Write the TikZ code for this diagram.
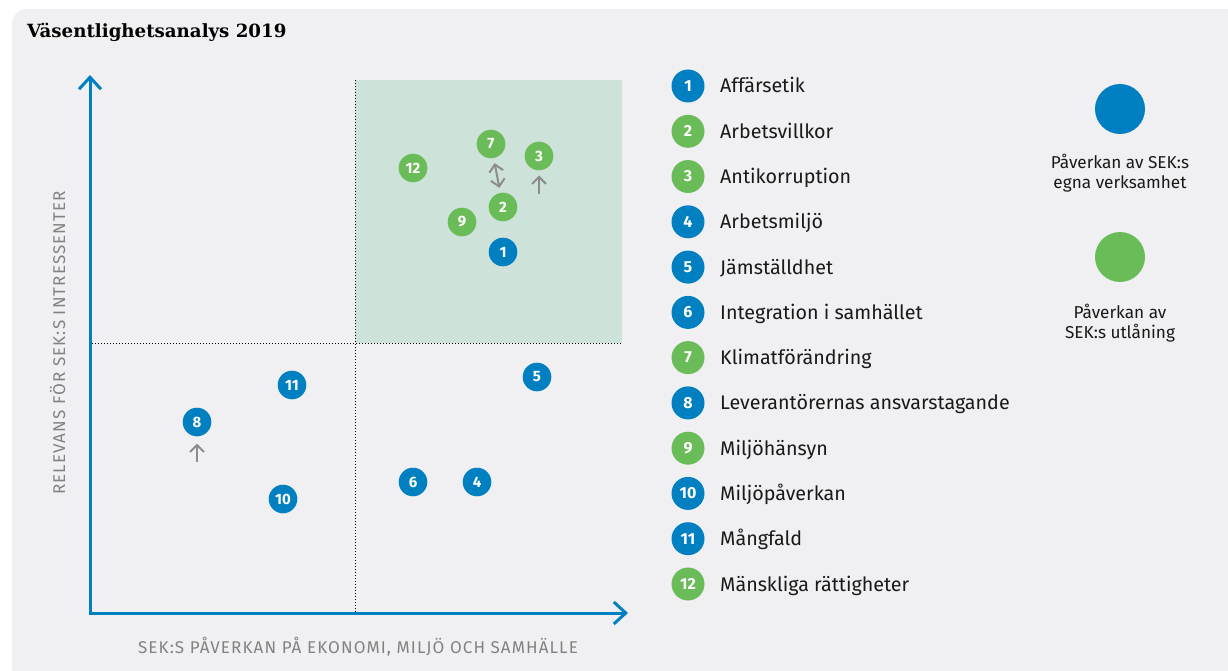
\documentclass[tikz,border=0pt]{standalone}
\usepackage{fontspec}
\setmainfont{Fira Sans}
\newfontfamily\titlefont{DejaVu Serif}
\newfontfamily\spacedfont[LetterSpace=6.5]{Fira Sans}
\usetikzlibrary{arrows.meta}
\definecolor{sekblue}{HTML}{0080C1}
\definecolor{sekgreen}{HTML}{6ABC58}
\definecolor{quadgreen}{HTML}{CDE2D8}
\definecolor{panelgray}{HTML}{F0F0F3}
\definecolor{arrgray}{HTML}{8C8C8C}
\definecolor{labelgray}{HTML}{828282}

\begin{document}
\begin{tikzpicture}[x=1pt, y=-1pt,
    dot/.style={circle, inner sep=0pt, minimum size=28.6pt, text=white, font=\fontsize{15}{15}\selectfont\bfseries},
    key/.style={circle, inner sep=0pt, minimum size=33pt, text=white, font=\fontsize{16}{16}\selectfont\bfseries},
    keytext/.style={anchor=base west, inner sep=0pt, text=black!90, font=\fontsize{19.7}{19.7}\selectfont},
    note/.style={align=center, inner sep=0pt, text=black!90, font=\fontsize{17.2}{20}\selectfont},
    axislabel/.style={anchor=base, inner sep=0pt, text=labelgray, font=\spacedfont\fontsize{17}{17}\selectfont},
    axis/.style={draw=sekblue, line width=3pt, {Straight Barb[length=12pt,width=22pt]}-{Straight Barb[length=12pt,width=22pt]}},
    arr/.style={draw=arrgray, line width=2pt, -{Straight Barb[length=7pt,width=14pt]}},
    grid/.style={line width=1pt, dash pattern=on 1pt off 2pt}]
    \useasboundingbox (0,0) rectangle (1228,671);
    \fill[panelgray] (12,671) [rounded corners=15pt] -- (12,9) [sharp corners] -- (1228,9) -- (1228,671) -- cycle;

    \node[anchor=base west, inner sep=0pt, font=\titlefont\bfseries\fontsize{18.2}{18.2}\selectfont] (title) at (27,37.5) {Väsentlighetsanalys 2019};

    % quadrants
    \fill[quadgreen] (355,80) rectangle (622,343);
    \draw[grid] (355,80) -- (355,613);
    \draw[grid] (92,343) -- (622,343);

    \coordinate (ytop) at (90,75);
    \coordinate (xend) at (628,613);
    \draw[axis] (ytop) |- (xend);
    \node[axislabel] (xlabel) at (358,653) {SEK:S PÅVERKAN PÅ EKONOMI, MILJÖ OCH SAMHÄLLE};
    \node[axislabel, rotate=90] (ylabel) at (65,343) {RELEVANS FÖR SEK:S INTRESSENTER};

    % dots
    \node[dot, fill=sekgreen] (dseven) at (491,144) {7};
    \node[dot, fill=sekgreen] (dthree) at (539,156) {3};
    \node[dot, fill=sekgreen] (dtwelve) at (413,168) {12};
    \node[dot, fill=sekgreen] (dtwo) at (503,207) {2};
    \node[dot, fill=sekgreen] (dnine) at (462,222) {9};
    \node[dot, fill=sekblue] (done) at (503,252) {1};
    \node[dot, fill=sekblue] (dfive) at (537,377) {5};
    \node[dot, fill=sekblue] (deleven) at (292,385) {11};
    \node[dot, fill=sekblue] (deight) at (197,422) {8};
    \node[dot, fill=sekblue] (dsix) at (413,482) {6};
    \node[dot, fill=sekblue] (dfour) at (477,482) {4};
    \node[dot, fill=sekblue] (dten) at (283,499) {10};

    \coordinate (cthree) at (539,194);
    \coordinate (ceight) at (197,462);
    \draw[arr, {Straight Barb[length=7pt,width=14pt]}-{Straight Barb[length=7pt,width=14pt]}, shorten <=5pt, shorten >=5pt] (dseven) -- (dtwo);
    \draw[arr, shorten >=5pt] (cthree) -- (dthree);
    \draw[arr, shorten >=7pt] (ceight) -- (deight);

    % legend
    \node[key, fill=sekblue] (kone) at (688,86) {1};
    \node[keytext] (tone) at (720,93) {Affärsetik};
    \node[key, fill=sekgreen] (ktwo) at (688,131.3) {2};
    \node[keytext] (ttwo) at (720,138.3) {Arbetsvillkor};
    \node[key, fill=sekgreen] (kthree) at (688,176.5) {3};
    \node[keytext] (tthree) at (720,183.5) {Antikorruption};
    \node[key, fill=sekblue] (kfour) at (688,221.8) {4};
    \node[keytext] (tfour) at (720,228.8) {Arbetsmiljö};
    \node[key, fill=sekblue] (kfive) at (688,267.1) {5};
    \node[keytext] (tfive) at (720,274.1) {Jämställdhet};
    \node[key, fill=sekblue] (ksix) at (688,312.4) {6};
    \node[keytext] (tsix) at (720,319.4) {Integration i samhället};
    \node[key, fill=sekgreen] (kseven) at (688,357.6) {7};
    \node[keytext] (tseven) at (720,364.6) {Klimatförändring};
    \node[key, fill=sekblue] (keight) at (688,402.9) {8};
    \node[keytext] (teight) at (720,409.9) {Leverantörernas ansvarstagande};
    \node[key, fill=sekgreen] (knine) at (688,448.2) {9};
    \node[keytext] (tnine) at (720,455.2) {Miljöhänsyn};
    \node[key, fill=sekblue] (kten) at (688,493.4) {10};
    \node[keytext] (tten) at (720,500.4) {Miljöpåverkan};
    \node[key, fill=sekblue] (keleven) at (688,538.7) {11};
    \node[keytext] (televen) at (720,545.7) {Mångfald};
    \node[key, fill=sekgreen] (ktwelve) at (688,584) {12};
    \node[keytext] (ttwelve) at (720,591) {Mänskliga rättigheter};

    \node[circle, inner sep=0pt, minimum size=50pt, fill=sekblue] (kblue) at (1120,109) {};
    \node[note] (nblue) at (1120,173) {Påverkan av SEK:s\\egna verksamhet};
    \node[circle, inner sep=0pt, minimum size=50pt, fill=sekgreen] (kgreen) at (1120,257) {};
    \node[note] (ngreen) at (1120,323) {Påverkan av\\SEK:s utlåning};
\end{tikzpicture}
\end{document}
